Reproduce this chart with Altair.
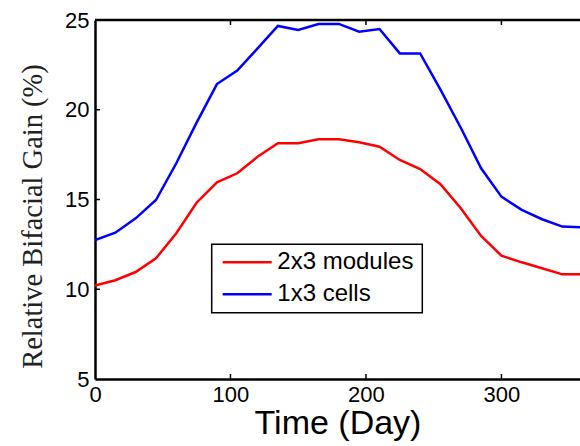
import altair as alt
import pandas as pd

days = [0, 15, 30, 45, 60, 75, 90, 105, 120, 135, 150, 165, 180,
        195, 210, 225, 240, 255, 270, 285, 300, 315, 330, 345, 360]
modules_2x3 = [10.2, 10.5, 10.96, 11.72, 13.12, 14.82, 15.96, 16.46, 17.38, 18.13, 18.13, 18.35, 18.35,
               18.19, 17.94, 17.2, 16.7, 15.85, 14.51, 12.97, 11.87, 11.5, 11.17, 10.83, 10.83]
cells_1x3 = [12.74, 13.15, 13.95, 14.97, 17.02, 19.28, 21.43, 22.18, 23.42, 24.67, 24.44, 24.78, 24.78,
             24.35, 24.5, 23.14, 23.14, 21.12, 19.0, 16.74, 15.16, 14.42, 13.9, 13.49, 13.45]
series_names = ["2x3 modules", "1x3 cells"]
series_colors = ["#ff0000", "#0000ff"]
x_ticks = [0, 100, 200, 300]
y_ticks = [5, 10, 15, 20, 25]

W, H = 485, 359
X_DOMAIN = [0, 358]
Y_DOMAIN = [5, 25]

rows = []
for d, a, b in zip(days, modules_2x3, cells_1x3):
    rows.append({"day": d, "value": a, "series": series_names[0]})
    rows.append({"day": d, "value": b, "series": series_names[1]})
df = pd.DataFrame(rows)

xscale = alt.Scale(domain=X_DOMAIN, nice=False, zero=False)
yscale = alt.Scale(domain=Y_DOMAIN, nice=False, zero=False)
cscale = alt.Scale(domain=series_names, range=series_colors)

lines = alt.Chart(df).mark_line(strokeWidth=2.5, clip=True).encode(
    x=alt.X("day:Q", scale=xscale,
            axis=alt.Axis(title="Time (Day)", values=x_ticks, tickSize=0, labelPadding=5,
                          labelFlush=False, labelOverlap=False,
                          labelFontSize=22, labelFont="Liberation Sans", labelColor="black",
                          domainColor="black", domainWidth=2.5, grid=False,
                          titleFontSize=34, titleFont="Liberation Sans", titleFontWeight="normal",
                          titleColor="black", titleBaseline="alphabetic", titleY=54)),
    y=alt.Y("value:Q", scale=yscale,
            axis=alt.Axis(title="Relative Bifacial Gain (%)", values=y_ticks, tickSize=0, labelPadding=6,
                          labelFlush=False, labelOverlap=False,
                          labelFontSize=22, labelFont="Liberation Sans", labelColor="black",
                          domainColor="black", domainWidth=2.5, grid=False,
                          titleFontSize=28.5, titleFont="Liberation Serif", titleFontWeight="normal",
                          titleColor="#222222", titleBaseline="alphabetic", titleAngle=270,
                          titleX=-54, titleY=196, titleAlign="center")),
    color=alt.Color("series:N", sort=series_names, scale=cscale, legend=None),
    detail="series:N",
)

# inward tick marks and top border (MATLAB box style)
xt = pd.DataFrame({"t": [100, 200, 300]})
yt = pd.DataFrame({"t": [10, 15, 20, 25]})
bottom_ticks = alt.Chart(xt).mark_rule(color="black", strokeWidth=1.5).encode(
    x=alt.X("t:Q", scale=xscale), y=alt.value(H), y2=alt.value(H - 5))
top_ticks = alt.Chart(xt).mark_rule(color="black", strokeWidth=1.5).encode(
    x=alt.X("t:Q", scale=xscale), y=alt.value(0), y2=alt.value(5))
left_ticks = alt.Chart(yt).mark_rule(color="black", strokeWidth=1.5).encode(
    y=alt.Y("t:Q", scale=yscale), x=alt.value(0), x2=alt.value(5))
top_border = alt.Chart(xt.head(1)).mark_rule(color="black", strokeWidth=2.5).encode(
    x=alt.value(0), x2=alt.value(W), y=alt.value(0))

# legend box (MATLAB-style, inside the axes)
LX0, LX1, LY0, LY1 = 116.7, 327.3, 224.3, 292.7
ROW_Y = [242.3, 274.3]
leg_df = pd.DataFrame({"series": series_names})
legend_box = alt.Chart(leg_df.head(1)).mark_rect(fill="white", stroke="black", strokeWidth=1.5).encode(
    x=alt.value(LX0), x2=alt.value(LX1), y=alt.value(LY0), y2=alt.value(LY1))
legend_layers = [legend_box]
for name, ry in zip(series_names, ROW_Y):
    sub = leg_df[leg_df["series"] == name]
    legend_layers.append(
        alt.Chart(sub).mark_rule(strokeWidth=2.5).encode(
            x=alt.value(127.7), x2=alt.value(176.7), y=alt.value(ry),
            color=alt.Color("series:N", scale=cscale, legend=None)))
    legend_layers.append(
        alt.Chart(sub).mark_text(align="left", baseline="middle", fontSize=24,
                                 font="Liberation Sans", color="black").encode(
            x=alt.value(182.3), y=alt.value(ry), text="series:N"))

chart = alt.layer(lines, bottom_ticks, top_ticks, left_ticks, top_border, *legend_layers).properties(
    width=W, height=H,
    autosize=alt.AutoSizeParams(type="none"),
    padding={"left": 95, "top": 20, "right": 0, "bottom": 67},
    background="white",
).configure_view(stroke=None)

chart.save("out.html", embed_options={"renderer": "svg", "actions": False})
